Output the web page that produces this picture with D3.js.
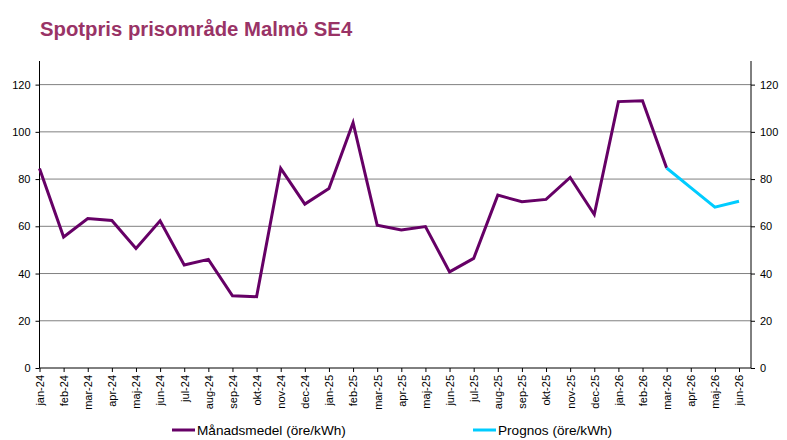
<!DOCTYPE html>
<html>
<head>
<meta charset="utf-8">
<script src="https://cdn.jsdelivr.net/npm/d3@7"></script>
<style>
  body { margin: 0; background: #fff; }
  text { font-family: "Liberation Sans", Arial, sans-serif; }
</style>
</head>
<body>
<svg width="787" height="440"></svg>
<script>
const svg = d3.select("svg"),
	width = +svg.attr("width"),
	height = +svg.attr("height");

// Data
const months = ["jan-24", "feb-24", "mar-24", "apr-24", "maj-24", "jun-24", "jul-24", "aug-24", "sep-24", "okt-24", "nov-24", "dec-24",
	"jan-25", "feb-25", "mar-25", "apr-25", "maj-25", "jun-25", "jul-25", "aug-25", "sep-25", "okt-25", "nov-25", "dec-25",
	"jan-26", "feb-26", "mar-26", "apr-26", "maj-26", "jun-26"]
const monthlyMonths = months.slice(0, 27)
const monthlyValues = [84.5, 55.5, 63.3, 62.5, 50.6, 62.3, 43.6, 46.0, 30.6, 30.2, 84.5, 69.4,
	76.0, 103.9, 60.5, 58.4, 59.9, 40.7, 46.4, 73.2, 70.4, 71.4, 80.7, 65.0,
	112.8, 113.2, 84.7]
const forecastMonths = ["mar-26", "apr-26", "maj-26", "jun-26"]
const forecastValues = [84.7, 76.4, 68.1, 70.6]
const yTicks = [0, 20, 40, 60, 80, 100, 120]

const plotLeft = 39.5, plotRight = 751, plotTop = 61, plotBottom = 368

const x = d3.scalePoint()
	.domain(months)
	.range([plotLeft, 739])

const y = d3.scaleLinear()
	.domain([0, 130])
	.range([plotBottom, plotTop])

// Title
svg.append("text")
	.attr("x", 40)
	.attr("y", 36)
	.attr("font-size", 20.3)
	.attr("font-weight", "bold")
	.attr("fill", "#993366")
	.text("Spotpris prisområde Malmö SE4")

// Gridlines
svg.append("g")
	.selectAll("line")
	.data(yTicks.slice(1))
	.join("line")
	.attr("x1", plotLeft)
	.attr("x2", plotRight)
	.attr("y1", d => y(d))
	.attr("y2", d => y(d))
	.attr("stroke", "#808080")
	.attr("stroke-width", 1)

// Axes
const styleAxis = function (g) {
	g.select(".domain").remove()
	g.selectAll("line").attr("stroke", "#000")
	g.selectAll("text")
		.attr("font-size", 11)
		.attr("fill", "#000")
		.attr("font-family", "'Liberation Sans', Arial, sans-serif")
}

svg.append("g")
	.attr("transform", `translate(${plotLeft},0)`)
	.call(d3.axisLeft(y).tickValues(yTicks).tickSize(4).tickPadding(5))
	.call(styleAxis)

svg.append("g")
	.attr("transform", `translate(${plotRight},0)`)
	.call(d3.axisRight(y).tickValues(yTicks).tickSize(4).tickPadding(5))
	.call(styleAxis)

const xAxis = svg.append("g")
	.attr("transform", `translate(0,${plotBottom})`)
	.call(d3.axisBottom(x).tickSize(4).tickPadding(4))
	.call(styleAxis)

xAxis.selectAll("text")
	.attr("transform", "rotate(-90)")
	.attr("text-anchor", "end")
	.attr("x", -7)
	.attr("y", 0)
	.attr("dy", "0.35em")

// Axis lines
svg.append("line")
	.attr("x1", plotLeft).attr("x2", plotLeft)
	.attr("y1", plotTop).attr("y2", plotBottom)
	.attr("stroke", "#000")
svg.append("line")
	.attr("x1", plotRight).attr("x2", plotRight)
	.attr("y1", plotTop).attr("y2", plotBottom)
	.attr("stroke", "#000")
svg.append("line")
	.attr("x1", plotLeft).attr("x2", plotRight)
	.attr("y1", plotBottom).attr("y2", plotBottom)
	.attr("stroke", "#000")

// Lines
const line = d3.line()
	.x(d => x(d[0]))
	.y(d => y(d[1]))

svg.append("path")
	.datum(d3.zip(monthlyMonths, monthlyValues))
	.attr("d", line)
	.attr("fill", "none")
	.attr("stroke", "#660066")
	.attr("stroke-width", 3)
	.attr("stroke-linejoin", "miter")

svg.append("path")
	.datum(d3.zip(forecastMonths, forecastValues))
	.attr("d", line)
	.attr("fill", "none")
	.attr("stroke", "#00CCFF")
	.attr("stroke-width", 3)

// Legend
const legendItems = [
	{ label: "Månadsmedel (öre/kWh)", color: "#660066", x: 172 },
	{ label: "Prognos (öre/kWh)", color: "#00CCFF", x: 473 }
]

const legend = svg.append("g")
	.selectAll("g")
	.data(legendItems)
	.join("g")
	.attr("transform", d => `translate(${d.x},430)`)

legend.append("line")
	.attr("x1", 0)
	.attr("x2", 23)
	.attr("stroke", d => d.color)
	.attr("stroke-width", 3)

legend.append("text")
	.attr("x", 25)
	.attr("dy", "0.35em")
	.attr("font-size", 13.6)
	.attr("fill", "#000")
	.text(d => d.label)
</script>
</body>
</html>
